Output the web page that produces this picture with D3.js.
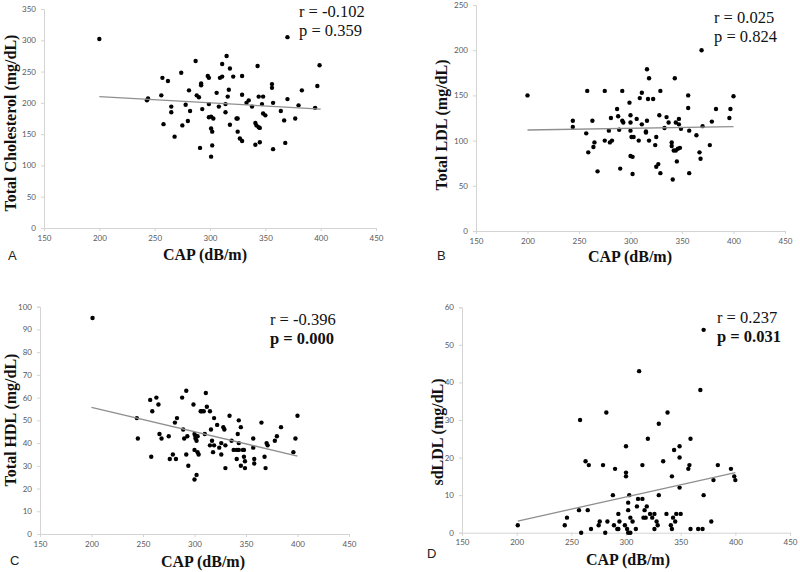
<!DOCTYPE html>
<html>
<head>
<meta charset="utf-8">
<script src="https://cdn.jsdelivr.net/npm/d3@7"></script>
<style>
  html, body { margin: 0; padding: 0; background: #fff; }
  svg { display: block; }
</style>
</head>
<body>
<svg id="chart" width="800" height="572"></svg>
<script>
// ---------------- DATA ----------------
const xTicks = [150, 200, 250, 300, 350, 400, 450];

// Panel A: Total Cholesterol
const capA = [200,243,244,256,257,258,262,265,265,268,274,275,278,280,281,282,287,288,290,291,292,292,293,298,299,299,299,301,301,301,302,302,303,306,308,309,311,311,315,314,314,316,317,318,318,321,324,325,325,327,329,329,329,333,335,338,341,341,342,343,344,344,345,345,347,348,348,350,356,356,357,357,364,367,368,370,370,377,380,383,395,397,399];
const cholA = [302,204,207,212,240,166,235,194,185,146,248,164,197,171,220,187,267,212,209,128,231,228,190,243,240,198,177,159,114,178,154,132,175,216,194,240,262,242,275,198,185,210,221,255,165,242,175,175,154,143,139,213,243,200,204,194,168,133,164,259,161,210,137,160,198,210,183,180,230,224,200,126,187,172,136,305,206,175,196,220,192,227,260];
const yTicksA = [0,50,100,150,200,250,300,350];
const trendA = [[200,210],[400,190]];

// Panel B: Total LDL
const capB = [200,244,244,257,258,259,263,264,265,268,275,275,279,280,281,282,287,288,289,290,292,292,293,299,300,300,300,300,301,302,302,303,306,308,309,311,311,315,315,316,316,317,318,318,322,324,325,325,327,328,329,329,333,335,337,340,340,341,342,343,344,344,345,346,347,347,348,349,356,356,357,357,364,367,368,369,370,377,379,383,396,397,400];
const ldlB = [150,122,115,108,155,87,122,93,98,66,155,100,111,98,125,100,135,127,112,69,155,122,120,142,128,120,111,83,104,82,63,104,124,100,147,153,118,110,109,179,122,146,169,100,146,95,104,71,74,128,155,64,114,126,120,98,94,57,89,169,120,89,77,91,118,124,92,113,150,136,111,64,106,87,80,200,116,95,121,135,125,135,149];
const yTicksB = [0,50,100,150,200,250];
const trendB = [[200,111.7],[400,115.4]];

// Panel C: Total HDL
const capC = [201,244,245,257,258,259,263,265,266,268,275,276,279,281,282,283,288,289,290,292,292,293,294,299,300,300,300,301,301,302,302,303,303,304,306,307,309,310,311,312,315,315,316,317,318,319,319,322,324,326,326,328,329,330,330,334,336,338,341,341,342,343,343,343,345,345,347,348,348,349,349,357,357,358,358,365,368,369,370,371,378,380,384,396,398,400];
const hdlC = [95,51,42,59,34,54,60,57,44,42,43,33,35,49,33,51,60,46,42,35,63,43,30,57,44,37,24,43,42,41,26,36,43,35,54,54,54,44,62,56,54,39,46,41,36,51,39,48,38,35,40,47,46,39,29,52,41,37,33,37,44,40,50,37,47,30,37,37,34,29,32,42,38,33,31,49,34,29,40,39,41,43,47,36,42,52];
const yTicksC = [0,10,20,30,40,50,60,70,80,90,100];
const trendC = [[200,55.7],[400,34.3]];

// Panel D: sdLDL
const capD = [201,244,246,257,258,259,263,265,266,268,275,276,279,281,282,283,288,289,290,292,293,293,294,299,300,300,300,301,302,302,302,303,304,304,306,309,310,311,312,315,315,316,317,318,319,320,322,324,326,326,328,329,330,330,334,337,338,341,342,342,343,344,345,346,349,349,349,350,357,358,359,359,366,368,370,371,371,378,380,384,396,399,400];
const sdldlD = [2,2,4,6,30,0,19,6,18,1,2,3,18,0,32,3,10,2,17,1,1,5,3,2,23,16,15,1,0,8,6,10,0,4,3,1,7,9,43,9,18,4,6,4,7,25,5,4,5,1,3,2,29,10,19,5,32,2,15,1,4,22,3,5,12,20,23,5,17,18,25,1,1,38,1,54,10,3,14,18,17,15,14];
const yTicksD = [0,10,20,30,40,50,60];
const trendD = [[201,3.1],[400,16.0]];

const panelLetters = ["A","B","C","D"];
const yTitles = ["Total Cholesterol (mg/dL)","Total LDL (mg/dL)","Total HDL (mg/dL)","sdLDL (mg/dL)"];
const xTitle = "CAP (dB/m)";
const rTexts = ["r = -0.102","r = 0.025","r = -0.396","r = 0.237"];
const pTexts = ["p = 0.359","p = 0.824","p = 0.000","p = 0.031"];
const pBold = [false,false,true,true];

// ---------------- LAYOUT ----------------
const layout = [
  {x0:44,  x1:376, yb:228,   yt:9,     letter:[8,260],   xt:[205,260], yt2:[16,123], ann:[299,17,36]},
  {x0:476, x1:785, yb:231,   yt:5,     letter:[437,260], xt:[630,262], yt2:[447,125], ann:[714,23,42]},
  {x0:40,  x1:349, yb:534,   yt:306.7, letter:[10,565],  xt:[203,567], yt2:[16,420], ann:[270,325,344]},
  {x0:462, x1:790, yb:532.7, yt:307.3, letter:[427,558], xt:[628,565], yt2:[443,432], ann:[717,323,342]}
];

const panels = [
  {cap:capA, val:cholA, yTicks:yTicksA, trend:trendA},
  {cap:capB, val:ldlB,  yTicks:yTicksB, trend:trendB},
  {cap:capC, val:hdlC,  yTicks:yTicksC, trend:trendC},
  {cap:capD, val:sdldlD,yTicks:yTicksD, trend:trendD}
];

const svg = d3.select("#chart");
const axisColor = "#d4d4d4";
const tickTextColor = "#595959";
const serif = "'Liberation Serif','Times New Roman',serif";
const sans = "Lato,'Liberation Sans',Arial,sans-serif";

panels.forEach((p, i) => {
  const L = layout[i];
  const x = d3.scaleLinear().domain([150, 450]).range([L.x0, L.x1]);
  const yMax = p.yTicks[p.yTicks.length - 1];
  const y = d3.scaleLinear().domain([0, yMax]).range([L.yb, L.yt]);
  const g = svg.append("g");

  // X axis
  const xAxis = g.append("g").attr("transform", `translate(0,${L.yb})`)
    .call(d3.axisBottom(x).tickValues(xTicks).tickSize(3).tickPadding(4).tickFormat(d3.format("d")));
  // Y axis
  const yAxis = g.append("g").attr("transform", `translate(${L.x0},0)`)
    .call(d3.axisLeft(y).tickValues(p.yTicks).tickSize(3).tickPadding(5).tickFormat(d3.format("d")));
  [xAxis, yAxis].forEach(a => {
    a.select(".domain").attr("stroke", axisColor).attr("stroke-width", 1);
    a.selectAll(".tick line").attr("stroke", axisColor);
    a.selectAll(".tick text").attr("fill", tickTextColor)
      .style("font-family", sans).style("font-size", "8px");
  });

  // Points
  g.append("g").selectAll("circle").data(p.cap.map((c, k) => [c, p.val[k]]))
    .join("circle")
    .attr("cx", d => x(d[0])).attr("cy", d => y(d[1]))
    .attr("r", 2.2).attr("fill", "#000");

  // Trend line
  g.append("path").datum(p.trend)
    .attr("d", d3.line().x(d => x(d[0])).y(d => y(d[1])))
    .attr("stroke", "#8f8f8f").attr("stroke-width", 1.3).attr("fill", "none");

  // Panel letter
  g.append("text").attr("x", L.letter[0]).attr("y", L.letter[1])
    .text(panelLetters[i]).style("font-family", "'Liberation Sans',Arial,sans-serif")
    .style("font-size", "13px").attr("fill", "#222");

  // X title
  g.append("text").attr("x", L.xt[0]).attr("y", L.xt[1]).attr("text-anchor", "middle")
    .text(xTitle).style("font-family", serif).style("font-weight", "bold")
    .style("font-size", "16px").attr("fill", "#111");

  // Y title
  g.append("text").attr("transform", `translate(${L.yt2[0]},${L.yt2[1]}) rotate(-90)`)
    .attr("text-anchor", "middle")
    .text(yTitles[i]).style("font-family", serif).style("font-weight", "bold")
    .style("font-size", "16px").attr("fill", "#111");

  // Annotations
  g.append("text").attr("x", L.ann[0]).attr("y", L.ann[1])
    .text(rTexts[i]).style("font-family", serif).style("font-size", "16.5px").attr("fill", "#111");
  g.append("text").attr("x", L.ann[0]).attr("y", L.ann[2])
    .text(pTexts[i]).style("font-family", serif).style("font-size", "16.5px")
    .style("font-weight", pBold[i] ? "bold" : "normal").attr("fill", "#111");
});
</script>
</body>
</html>
